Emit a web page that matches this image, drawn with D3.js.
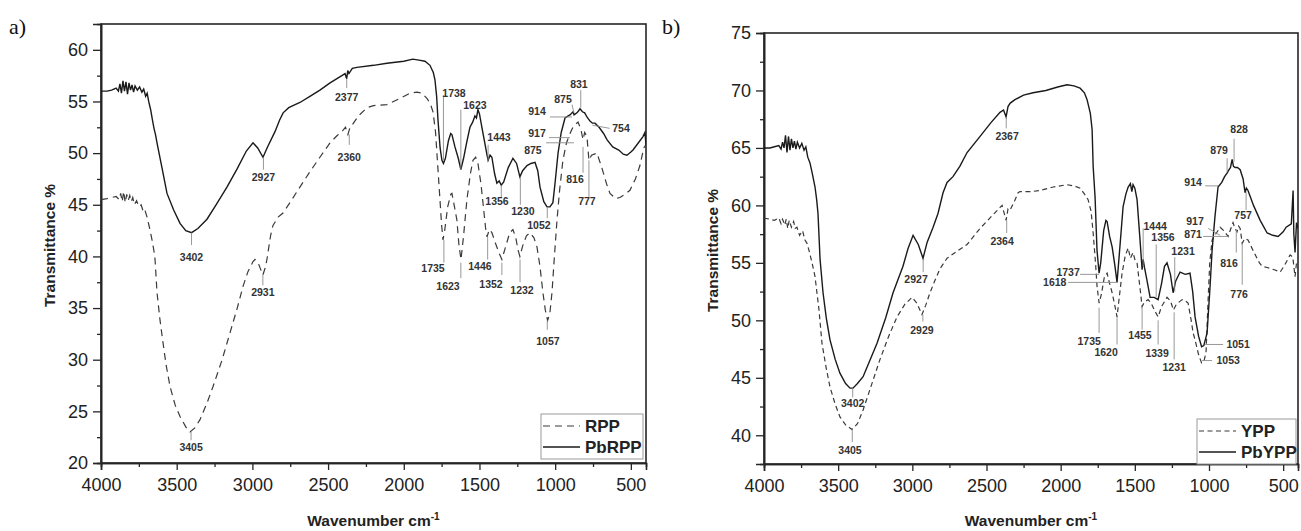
<!DOCTYPE html>
<html>
<head>
<meta charset="utf-8">
<script src="https://cdn.jsdelivr.net/npm/d3@7"></script>
<style>
body{margin:0;background:#fff;}
svg{font-family:"Liberation Sans",Arial,sans-serif;}
</style>
</head>
<body>
<svg id="chart" width="1301" height="531"></svg>
<script>
// spectra as [wavenumber, transmittance %]
const pbrpp = [[4000,56.0],[3960,56.0],[3930,56.1],[3900,56.3],[3885,56.0],[3875,56.7],[3865,55.8],[3855,57.0],[3845,56.0],[3835,56.9],[3825,55.7],[3815,56.8],[3805,56.1],[3795,56.6],[3785,55.9],[3775,56.5],[3760,56.1],[3745,56.4],[3730,55.9],[3718,56.2],[3705,55.5],[3695,55.8],[3685,55.0],[3672,54.2],[3660,53.2],[3650,52.4],[3640,51.8],[3630,51.0],[3600,48.8],[3564,46.1],[3520,44.5],[3478,43.2],[3440,42.5],[3402,42.3],[3360,42.7],[3300,43.6],[3240,45.0],[3168,46.7],[3100,48.5],[3040,50.2],[2996,51.0],[2965,50.5],[2930,49.6],[2900,50.6],[2850,52.1],[2820,53.2],[2797,53.9],[2760,54.4],[2686,54.9],[2620,55.5],[2554,56.1],[2487,56.8],[2420,57.4],[2388,57.7],[2377,57.2],[2370,58.0],[2362,57.7],[2340,58.2],[2309,58.3],[2200,58.5],[2111,58.7],[2000,58.9],[1940,59.1],[1900,59.0],[1860,58.9],[1827,58.5],[1805,57.8],[1794,57.1],[1783,55.5],[1774,53.2],[1760,50.5],[1748,49.3],[1738,49.0],[1725,49.5],[1705,51.2],[1690,51.9],[1682,51.8],[1662,50.6],[1640,49.5],[1623,48.4],[1605,49.5],[1585,51.0],[1563,52.5],[1545,53.0],[1530,53.6],[1520,53.4],[1510,54.2],[1500,53.8],[1484,52.5],[1465,51.0],[1450,49.8],[1443,49.3],[1430,49.8],[1418,49.6],[1400,48.0],[1385,47.1],[1370,47.3],[1356,46.9],[1340,47.2],[1310,48.6],[1279,49.5],[1255,49.0],[1233,47.7],[1215,48.3],[1186,48.8],[1160,49.0],[1133,49.1],[1115,48.3],[1100,46.7],[1075,45.3],[1054,44.8],[1035,44.8],[1015,45.2],[1000,47.2],[981,50.0],[960,52.0],[935,53.4],[914,53.6],[902,53.7],[882,54.0],[875,53.7],[856,53.9],[845,54.1],[836,54.3],[820,54.0],[805,53.9],[790,53.5],[770,53.1],[754,52.9],[737,52.9],[710,52.5],[680,51.9],[658,51.3],[620,50.6],[580,50.3],[550,49.9],[526,49.8],[500,50.1],[486,50.3],[450,51.0],[420,51.6],[407,52.0],[400,50.8]];

const rpp = [[4000,45.5],[3960,45.6],[3930,45.7],[3900,45.8],[3880,45.5],[3870,46.1],[3860,45.3],[3850,46.3],[3840,45.2],[3830,46.0],[3820,45.4],[3810,45.9],[3800,45.3],[3790,45.7],[3780,45.0],[3765,45.4],[3750,44.8],[3735,45.0],[3720,44.3],[3710,44.5],[3696,43.8],[3680,42.8],[3663,41.6],[3650,40.5],[3643,39.7],[3630,36.5],[3610,33.8],[3590,31.6],[3570,29.5],[3544,27.4],[3510,25.6],[3478,24.5],[3440,23.5],[3412,23.0],[3380,23.4],[3346,24.2],[3300,25.8],[3260,27.4],[3200,30.0],[3148,32.6],[3100,35.0],[3062,37.1],[3030,38.5],[2996,39.5],[2983,39.7],[2960,39.3],[2931,38.2],[2915,38.9],[2904,39.7],[2880,42.0],[2864,43.0],[2830,43.8],[2798,44.2],[2752,45.2],[2700,46.4],[2620,48.2],[2554,49.6],[2487,51.0],[2440,51.7],[2402,52.2],[2385,52.5],[2369,51.8],[2355,52.5],[2342,52.7],[2300,53.6],[2243,54.4],[2200,54.6],[2111,54.7],[2025,55.3],[1960,55.8],[1913,55.9],[1880,55.8],[1847,55.3],[1825,54.8],[1807,54.0],[1790,52.0],[1774,48.4],[1761,45.5],[1750,43.0],[1741,41.6],[1730,42.5],[1710,44.8],[1690,46.0],[1682,46.1],[1665,44.8],[1649,43.5],[1635,41.0],[1622,39.7],[1605,42.0],[1583,45.5],[1560,48.0],[1543,49.3],[1525,49.6],[1510,49.0],[1490,47.0],[1477,45.2],[1460,42.8],[1450,41.9],[1435,42.6],[1418,42.3],[1395,41.3],[1370,40.3],[1352,39.7],[1330,40.8],[1300,42.3],[1279,42.6],[1260,41.8],[1245,40.6],[1233,40.0],[1215,41.0],[1190,42.0],[1166,42.3],[1140,41.8],[1120,40.9],[1100,39.0],[1081,36.5],[1065,34.8],[1050,33.8],[1035,34.5],[1021,36.5],[1005,40.0],[988,43.5],[970,46.5],[949,49.3],[925,51.0],[902,51.9],[880,52.6],[849,53.0],[830,52.3],[816,51.3],[805,52.0],[790,51.6],[777,49.3],[760,49.8],[724,50.0],[690,48.5],[660,47.0],[638,46.1],[600,45.6],[572,45.7],[540,46.0],[506,46.4],[470,47.5],[440,48.8],[415,50.5],[400,50.8]];

const pbypp = [[4000,65.0],[3960,65.0],[3930,65.1],[3900,65.2],[3885,64.9],[3875,65.5],[3865,65.0],[3855,66.1],[3845,64.6],[3835,66.0],[3825,64.8],[3815,65.8],[3805,65.0],[3795,65.6],[3785,64.9],[3775,65.5],[3760,65.0],[3745,65.4],[3730,64.8],[3718,65.1],[3705,64.2],[3690,63.7],[3675,62.8],[3656,61.6],[3645,60.5],[3636,59.3],[3622,55.3],[3602,52.4],[3580,50.2],[3555,48.3],[3520,46.6],[3488,45.4],[3450,44.5],[3420,44.1],[3400,44.1],[3370,44.5],[3332,45.1],[3290,46.4],[3238,48.0],[3180,50.2],[3130,52.4],[3063,54.7],[3030,56.2],[2995,57.4],[2960,56.6],[2928,55.4],[2900,56.8],[2860,58.1],[2827,59.3],[2793,61.1],[2766,62.0],[2726,62.5],[2680,63.4],[2631,64.6],[2550,65.9],[2470,67.2],[2409,68.1],[2385,68.3],[2368,67.7],[2355,68.6],[2340,68.9],[2308,69.2],[2250,69.6],[2186,69.8],[2100,70.0],[2020,70.3],[1957,70.5],[1910,70.4],[1869,70.2],[1840,69.8],[1822,69.2],[1800,68.0],[1788,66.6],[1781,63.4],[1768,60.7],[1755,56.1],[1741,54.1],[1730,55.0],[1710,57.8],[1695,58.7],[1687,58.6],[1670,57.3],[1653,56.4],[1635,54.8],[1620,53.3],[1600,56.5],[1579,59.9],[1560,61.0],[1545,61.6],[1530,61.9],[1520,61.2],[1512,61.8],[1500,61.5],[1485,60.5],[1465,57.0],[1451,54.4],[1444,55.3],[1435,54.6],[1420,53.6],[1397,52.0],[1370,52.0],[1343,51.8],[1320,53.2],[1300,54.7],[1283,55.0],[1260,54.0],[1242,52.4],[1225,53.4],[1195,54.2],[1160,54.0],[1128,54.1],[1110,52.5],[1094,50.3],[1070,48.6],[1050,47.7],[1035,47.8],[1013,48.9],[995,52.5],[979,56.1],[960,59.0],[939,61.6],[914,62.0],[895,62.5],[878,62.8],[870,63.0],[855,63.3],[844,64.0],[835,63.4],[824,63.3],[808,63.3],[790,63.1],[770,62.3],[757,61.1],[748,61.5],[737,61.3],[700,60.0],[655,58.7],[608,57.6],[570,57.4],[534,57.3],[500,57.7],[480,58.1],[445,58.4],[433,61.3],[428,57.5],[420,55.9],[410,58.5],[400,58.0]];

const ypp = [[4000,58.9],[3960,58.8],[3930,58.7],[3900,58.9],[3885,58.4],[3875,58.8],[3860,58.3],[3850,58.8],[3840,58.0],[3830,58.7],[3815,58.1],[3800,58.6],[3790,58.0],[3778,58.1],[3760,57.4],[3740,57.8],[3725,57.0],[3710,56.7],[3695,56.0],[3676,55.0],[3656,53.8],[3630,51.0],[3609,48.0],[3580,45.8],[3555,44.2],[3520,42.7],[3488,41.6],[3450,40.9],[3407,40.5],[3370,41.0],[3332,42.2],[3280,44.2],[3218,46.6],[3160,48.6],[3103,50.3],[3050,51.4],[3002,52.0],[2970,51.5],[2935,50.5],[2910,51.3],[2881,52.4],[2850,53.4],[2813,54.5],[2766,55.4],[2700,56.0],[2631,56.6],[2550,57.9],[2470,59.0],[2410,59.8],[2395,60.0],[2368,58.7],[2355,59.7],[2341,59.6],[2310,60.4],[2287,61.1],[2274,61.2],[2200,61.2],[2139,61.3],[2050,61.6],[1957,61.8],[1910,61.7],[1869,61.5],[1840,61.0],[1815,60.5],[1795,59.5],[1781,57.6],[1765,55.0],[1755,53.0],[1741,51.5],[1725,52.3],[1705,53.8],[1687,54.1],[1670,53.2],[1653,52.4],[1635,51.3],[1620,50.3],[1605,52.0],[1586,54.1],[1565,55.6],[1545,56.3],[1530,55.4],[1512,55.9],[1500,55.3],[1485,55.0],[1465,52.8],[1451,51.2],[1435,51.6],[1411,51.8],[1390,51.5],[1365,50.8],[1343,50.3],[1320,51.2],[1283,52.0],[1260,51.7],[1240,50.9],[1220,51.4],[1181,51.8],[1160,51.7],[1141,51.5],[1120,50.0],[1107,48.9],[1094,48.3],[1070,47.0],[1050,46.3],[1035,46.4],[1020,47.2],[1006,51.8],[995,55.0],[979,57.0],[950,57.6],[925,58.1],[900,57.8],[871,57.3],[855,57.9],[838,58.5],[825,58.0],[811,57.7],[800,58.2],[790,58.0],[776,56.7],[760,57.1],[737,57.0],[700,56.0],[660,55.0],[642,54.7],[608,54.6],[560,54.4],[520,54.2],[490,54.8],[453,55.7],[435,55.5],[420,53.8],[410,55.0],[400,55.0]];

// axis ticks
const xMajor = [4000,3500,3000,2500,2000,1500,1000,500];
const xMinor = [3750,3250,2750,2250,1750,1250,750];
const yMajorA = [20,25,30,35,40,45,50,55,60];
const yMinorA = [22.5,27.5,32.5,37.5,42.5,47.5,52.5,57.5];
const yMajorB = [40,45,50,55,60,65,70,75];
const yMinorB = [42.5,47.5,52.5,57.5,62.5,67.5,72.5];

// peak labels: [text, w0, t0, w1, t1, label w, label t]
const notesA = [
  ["3402",3402,42.3,3402,41.1,3402,39.9],
  ["3405",3405,23.0,3405,22.2,3405,21.5],
  ["2927",2927,49.6,2927,48.4,2927,47.7],
  ["2931",2931,38.2,2931,37.2,2931,36.5],
  ["2377",2377,57.2,2377,56.3,2377,55.4],
  ["2360",2360,51.8,2360,50.8,2360,49.6],
  ["1738",1738,49.3,1738,55.6,1668,55.8],
  ["1623",1623,48.4,1623,54.2,1530,54.6],
  ["1443",1443,49.3,1443,50.8,1371,51.5],
  ["1356",1356,46.9,1356,45.7,1384,45.3],
  ["1230",1230,47.7,1230,45.0,1213,44.4],
  ["1052",1052,44.7,1052,43.7,1107,43.0],
  ["1735",1735,41.6,1735,39.4,1807,38.8],
  ["1623",1623,39.4,1623,37.9,1708,37.1],
  ["1446",1446,41.9,1446,39.7,1497,39.0],
  ["1352",1352,39.4,1352,38.2,1424,37.3],
  ["1232",1232,39.7,1232,37.5,1219,36.7],
  ["1057",1052,33.8,1052,32.9,1048,31.8],
  ["914",1034,53.5,889,53.5,1120,54.0],
  ["875",889,54.7,876,53.9,948,55.2],
  ["831",831,56.1,831,54.4,843,56.7],
  ["754",754,52.7,640,52.4,565,52.4],
  ["917",1041,51.5,902,51.5,1120,51.9],
  ["875",1060,51.0,876,51.0,1147,50.3],
  ["816",816,50.6,816,48.1,869,47.5],
  ["777",777,49.3,777,45.7,790,45.3]
];
const notesB = [
  ["3402",3402,44.1,3402,43.3,3402,42.8],
  ["3405",3405,40.5,3405,39.4,3420,38.7],
  ["2927",2927,55.3,2927,54.2,2975,53.6],
  ["2929",2929,50.5,2929,49.9,2935,49.1],
  ["2367",2367,67.7,2367,66.7,2361,66.0],
  ["2364",2364,58.7,2364,57.6,2395,56.9],
  ["1737",1869,54.0,1741,54.0,1950,54.2],
  ["1618",1950,53.3,1620,53.3,2040,53.3],
  ["1735",1741,51.1,1741,48.9,1808,48.2],
  ["1620",1620,50.3,1620,47.9,1694,47.2],
  ["1455",1451,51.2,1451,49.2,1465,48.7],
  ["1339",1343,50.0,1343,47.9,1350,47.1],
  ["1231",1235,50.7,1235,46.6,1235,45.9],
  ["1444",1444,54.7,1444,58.0,1363,58.2],
  ["1356",1356,52.0,1356,56.6,1310,57.2],
  ["1231",1231,52.5,1231,55.5,1175,56.0],
  ["1051",1026,47.9,905,47.9,804,47.9],
  ["1053",1047,46.5,979,46.5,871,46.5],
  ["914",1026,61.7,939,61.7,1107,62.0],
  ["879",878,62.9,878,64.1,932,64.8],
  ["828",831,63.8,831,65.8,797,66.6],
  ["757",750,61.2,750,59.6,770,59.1],
  ["917",1006,58.0,925,57.4,1094,58.6],
  ["871",1040,57.3,871,57.3,1107,57.5],
  ["816",816,57.9,816,55.9,865,55.0],
  ["776",776,56.7,776,53.1,797,52.3]
];

const panels = [
  {tag:"a)", tagX:9, left:101, right:646, top:24, bottom:463, yDomain:[20,62.5],
   yMajor:yMajorA, yMinor:yMinorA, dashed:rpp, solid:pbrpp, names:["RPP","PbRPP"],
   dash:"7,5", notes:notesA, titleX:50, legend:[541,414,102,45]},
  {tag:"b)", tagX:662, left:764, right:1298, top:33, bottom:464, yDomain:[37.5,75],
   yMajor:yMajorB, yMinor:yMinorB, dashed:ypp, solid:pbypp, names:["YPP","PbYPP"],
   dash:"5,3.5", notes:notesB, titleX:713, legend:[1197,419,99,45]}
];

const svg = d3.select("#chart");
const ink = "#262626";

const drawPanel = (p, i) => {
  const w = p.right - p.left, h = p.bottom - p.top;
  const x = d3.scaleLinear().domain([4000,400]).range([0,w]);
  const y = d3.scaleLinear().domain(p.yDomain).range([h,0]);
  const g = svg.append("g").attr("transform","translate(" + p.left + "," + p.top + ")");

  svg.append("text").attr("x",p.tagX).attr("y",34)
     .attr("font-family","'Liberation Serif','Times New Roman',serif")
     .attr("font-size",22).attr("fill","#111").text(p.tag);

  // axes
  const xa = g.append("g").attr("transform","translate(0," + h + ")")
     .call(d3.axisBottom(x).tickValues(xMajor).tickSize(7).tickPadding(8).tickFormat(d3.format("d")));
  g.append("g").attr("transform","translate(0," + h + ")")
     .call(d3.axisBottom(x).tickValues(xMinor).tickSize(4).tickFormat(""));
  const ya = g.append("g")
     .call(d3.axisLeft(y).tickValues(p.yMajor).tickSize(8).tickPadding(5).tickFormat(d3.format("d")));
  g.append("g").call(d3.axisLeft(y).tickValues(p.yMinor).tickSize(4).tickFormat(""));
  g.selectAll(".domain").attr("stroke",ink).attr("stroke-width",1.6);
  g.selectAll(".tick line").attr("stroke",ink).attr("stroke-width",1.3);
  g.selectAll(".tick text").attr("font-size",18).attr("fill","#222")
     .attr("font-family","'Liberation Sans',Arial,sans-serif");

  g.append("rect").attr("width",w).attr("height",h)
     .attr("fill","none").attr("stroke",ink).attr("stroke-width",1.6);

  // axis titles
  const xt = svg.append("text").attr("x",p.left + w/2).attr("y",526)
     .attr("text-anchor","middle").attr("font-size",15.5).attr("font-weight","bold").attr("fill","#222");
  xt.append("tspan").text("Wavenumber cm");
  xt.append("tspan").attr("dy",-6).attr("font-size",10).text("-1");
  svg.append("text").attr("transform","translate(" + p.titleX + "," + (p.top + h/2 + 2) + ") rotate(-90)")
     .attr("text-anchor","middle").attr("dy","0.35em").attr("font-size",15.5)
     .attr("font-weight","bold").attr("fill","#222").text("Transmittance %");

  // spectra
  g.append("clipPath").attr("id","clip" + i).append("rect").attr("width",w).attr("height",h);
  const line = d3.line().x(d => x(d[0])).y(d => y(d[1]));
  g.append("path").datum(p.dashed).attr("clip-path","url(#clip" + i + ")")
     .attr("d",line).attr("fill","none").attr("stroke","#3a3a3a")
     .attr("stroke-width",1.2).attr("stroke-dasharray",p.dash);
  g.append("path").datum(p.solid).attr("clip-path","url(#clip" + i + ")")
     .attr("d",line).attr("fill","none").attr("stroke","#1a1a1a").attr("stroke-width",1.4);

  // peak labels
  g.selectAll(".lead").data(p.notes).join("line").attr("class","lead")
     .attr("x1",d => x(d[1])).attr("y1",d => y(d[2]))
     .attr("x2",d => x(d[3])).attr("y2",d => y(d[4]))
     .attr("stroke","#8c8c8c").attr("stroke-width",0.9);
  g.selectAll(".note").data(p.notes).join("text").attr("class","note")
     .attr("x",d => x(d[5])).attr("y",d => y(d[6])).attr("dy","0.35em")
     .attr("text-anchor","middle").attr("font-size",10.5).attr("font-weight","bold")
     .attr("fill","#333").text(d => d[0]);

  // legend
  const [lx,ly,lw,lh] = p.legend;
  const lg = svg.append("g").attr("transform","translate(" + lx + "," + ly + ")");
  lg.append("rect").attr("width",lw).attr("height",lh)
     .attr("fill","#fff").attr("stroke","#999").attr("stroke-width",1);
  p.names.forEach((n, k) => {
    const yy = 12 + k*21;
    lg.append("line").attr("x1",2).attr("x2",39).attr("y1",yy).attr("y2",yy)
       .attr("stroke",k ? "#1a1a1a" : "#3a3a3a").attr("stroke-width",k ? 1.4 : 1.2)
       .attr("stroke-dasharray",k ? null : p.dash);
    lg.append("text").attr("x",44).attr("y",yy).attr("dy","0.35em")
       .attr("font-size",17).attr("font-weight","bold").attr("fill","#222").text(n);
  });
};

panels.forEach(drawPanel);
</script>
</body>
</html>
